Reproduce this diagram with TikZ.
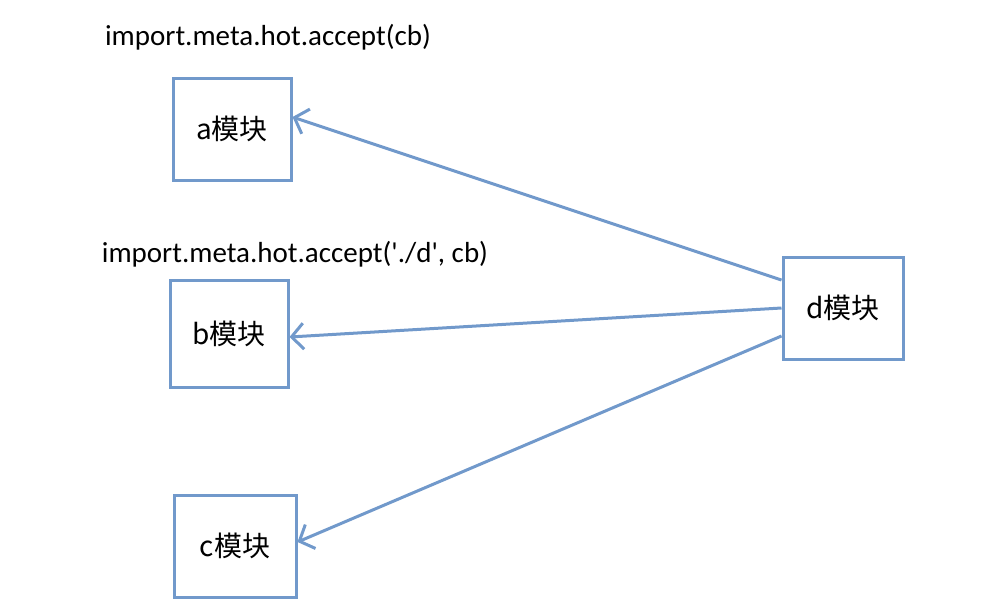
\documentclass[tikz,border=0pt]{standalone}
\usepackage{fontspec}
\setmainfont{Noto Sans CJK SC}
\newfontfamily\codefont{Carlito}
\usetikzlibrary{arrows.meta}
\definecolor{boxblue}{HTML}{7199CB}
\tikzset{
  modbox/.style={draw=boxblue, line width=3pt, fill=white, minimum width=#1, inner sep=0pt, font=\fontsize{28}{32}\selectfont},
  arr/.style={draw=boxblue, line width=3pt, -{Straight Barb[length=12pt,width=26pt,line width=3pt]}},
  codelbl/.style={font=\codefont\fontsize{29}{34}\selectfont, inner sep=0pt}
}
\begin{document}
\begin{tikzpicture}[x=1pt,y=-1pt]
\useasboundingbox (0,0) rectangle (996,606);
\node[modbox=118pt, minimum height=102pt] (a) at (232,129) {a模块};
\node[modbox=118pt, minimum height=107pt] (b) at (229,333.5) {b模块};
\node[modbox=122pt, minimum height=102pt] (c) at (235,546) {c模块};
\node[modbox=120pt, minimum height=102pt] (d) at (843,308) {d模块};
\node[codelbl] (t1) at (268,37) {import.meta.hot.accept(cb)};
\node[codelbl] (t2) at (295,254) {import.meta.hot.accept('./d', cb)};
\draw[arr] ([yshift=28pt]d.west) -- ([yshift=12pt]a.east);
\draw[arr] (d.west) -- ([yshift=-3.5pt]b.east);
\draw[arr] ([yshift=-28pt]d.west) -- ([yshift=4pt]c.east);
\end{tikzpicture}
\end{document}
